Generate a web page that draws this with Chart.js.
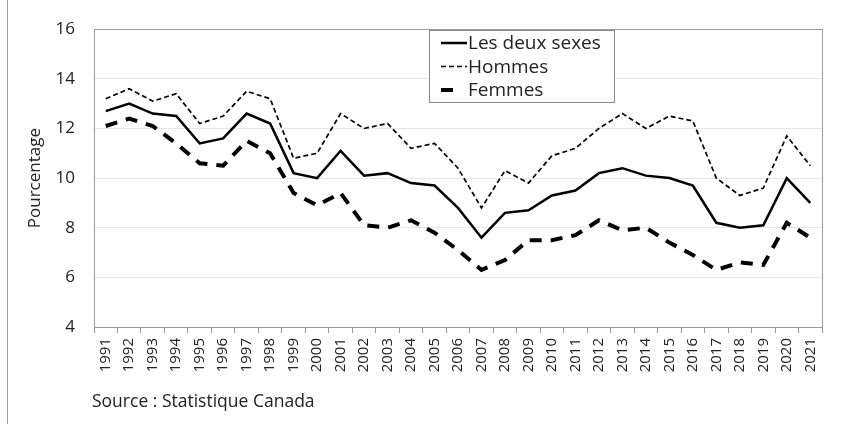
<!DOCTYPE html>
<html>
<head>
<meta charset="utf-8">
<script src="https://cdn.jsdelivr.net/npm/chart.js@4/dist/chart.umd.min.js"></script>
<style>
  html, body { margin: 0; padding: 0; background: #fff; }
  #wrap { width: 844px; height: 424px; }
</style>
</head>
<body>
<div id="wrap"><canvas id="chart"></canvas></div>
<script>
// Années et pourcentages
const annees = ['1991','1992','1993','1994','1995','1996','1997','1998','1999','2000',
  '2001','2002','2003','2004','2005','2006','2007','2008','2009','2010',
  '2011','2012','2013','2014','2015','2016','2017','2018','2019','2020','2021'];
const deuxSexes = [12.7, 13.0, 12.6, 12.5, 11.4, 11.6, 12.6, 12.2, 10.2, 10.0, 11.1,
  10.1, 10.2, 9.8, 9.7, 8.8, 7.6, 8.6, 8.7, 9.3, 9.5,
  10.2, 10.4, 10.1, 10.0, 9.7, 8.2, 8.0, 8.1, 10.0, 9.0];
const hommes = [13.2, 13.6, 13.1, 13.4, 12.2, 12.5, 13.5, 13.2, 10.8, 11.0, 12.6,
  12.0, 12.2, 11.2, 11.4, 10.4, 8.8, 10.3, 9.8, 10.9, 11.2,
  12.0, 12.6, 12.0, 12.5, 12.3, 10.0, 9.3, 9.6, 11.7, 10.5];
const femmes = [12.1, 12.4, 12.1, 11.4, 10.6, 10.5, 11.5, 11.0, 9.4, 8.9, 9.4,
  8.1, 8.0, 8.3, 7.8, 7.1, 6.3, 6.7, 7.5, 7.5, 7.7,
  8.3, 7.9, 8.0, 7.4, 6.9, 6.3, 6.6, 6.5, 8.2, 7.6];
const yTicks = [4, 6, 8, 10, 12, 14, 16];

const FONT = "'Open Sans', 'Noto Sans', sans-serif";
const GRIS = '#9a9a9a';

// cadre, légende et source
const decor = {
  id: 'decor',
  beforeDraw(chart) {
    const c = chart.ctx;
    c.save();
    c.strokeStyle = GRIS;
    c.lineWidth = 1;
    c.beginPath();
    c.moveTo(7.5, 0);
    c.lineTo(7.5, chart.height);
    c.stroke();
    c.restore();
  },
  afterDraw(chart) {
    const c = chart.ctx;
    const a = chart.chartArea;
    c.save();
    c.strokeStyle = GRIS;
    c.lineWidth = 1;
    c.strokeRect(Math.round(a.left) + 0.5, Math.round(a.top) + 0.5,
      Math.round(a.right - a.left), Math.round(a.bottom - a.top));

    // légende
    const bx = 429.5, by = 30.5, bw = 185, bh = 72;
    c.fillStyle = '#fff';
    c.fillRect(bx, by, bw, bh);
    c.strokeStyle = '#8a8a8a';
    c.strokeRect(bx, by, bw, bh);
    c.font = '19px ' + FONT;
    c.textBaseline = 'middle';
    chart.data.datasets.forEach((ds, i) => {
      const y = 43 + i * 23.5;
      c.save();
      c.strokeStyle = '#000';
      c.lineWidth = ds.borderWidth;
      c.setLineDash(ds.borderDash || []);
      c.beginPath();
      c.moveTo(441, y);
      c.lineTo(i === 2 ? 455 : 467, y);
      c.stroke();
      c.restore();
      c.fillStyle = '#222';
      c.fillText(ds.label, 468, y + 1);
    });

    // source
    c.font = '17.5px ' + FONT;
    c.fillStyle = '#222';
    c.textBaseline = 'middle';
    c.fillText('Source : Statistique Canada', 92, 402);
    c.restore();
  }
};

new Chart(document.getElementById('chart'), {
  type: 'line',
  data: {
    labels: annees,
    datasets: [
      { label: 'Les deux sexes', data: deuxSexes, borderColor: '#000', borderWidth: 2.5, borderDash: [] },
      { label: 'Hommes', data: hommes, borderColor: '#000', borderWidth: 1.7, borderDash: [5, 3] },
      { label: 'Femmes', data: femmes, borderColor: '#000', borderWidth: 4, borderDash: [12, 9] }
    ]
  },
  options: {
    responsive: true,
    maintainAspectRatio: false,
    animation: false,
    elements: { point: { radius: 0 }, line: { tension: 0, borderCapStyle: 'butt', borderJoinStyle: 'miter' } },
    layout: { padding: { left: 0, top: 19, right: 22, bottom: 0 } },
    plugins: { legend: { display: false }, tooltip: { enabled: false } },
    scales: {
      x: {
        offset: true,
        grid: { offset: true, drawOnChartArea: false, drawTicks: true, tickLength: 6, color: GRIS },
        border: { color: GRIS },
        ticks: { minRotation: 90, maxRotation: 90, autoSkip: false, padding: 5, color: '#222', font: { family: FONT, size: 15 } },
        afterFit(s) { s.height = 97; }
      },
      y: {
        min: 4, max: 16,
        afterBuildTicks(s) { s.ticks = yTicks.map(v => ({ value: v })); },
        grid: { color: '#e6e6e6', drawTicks: false },
        border: { color: GRIS },
        ticks: { padding: 19, color: '#222', font: { family: FONT, size: 17 } },
        title: { display: true, text: 'Pourcentage', color: '#222', font: { family: FONT, size: 17 }, padding: { top: 25, bottom: 0 } },
        afterFit(s) { s.width = 94; }
      }
    }
  },
  plugins: [decor]
});
</script>
</body>
</html>
